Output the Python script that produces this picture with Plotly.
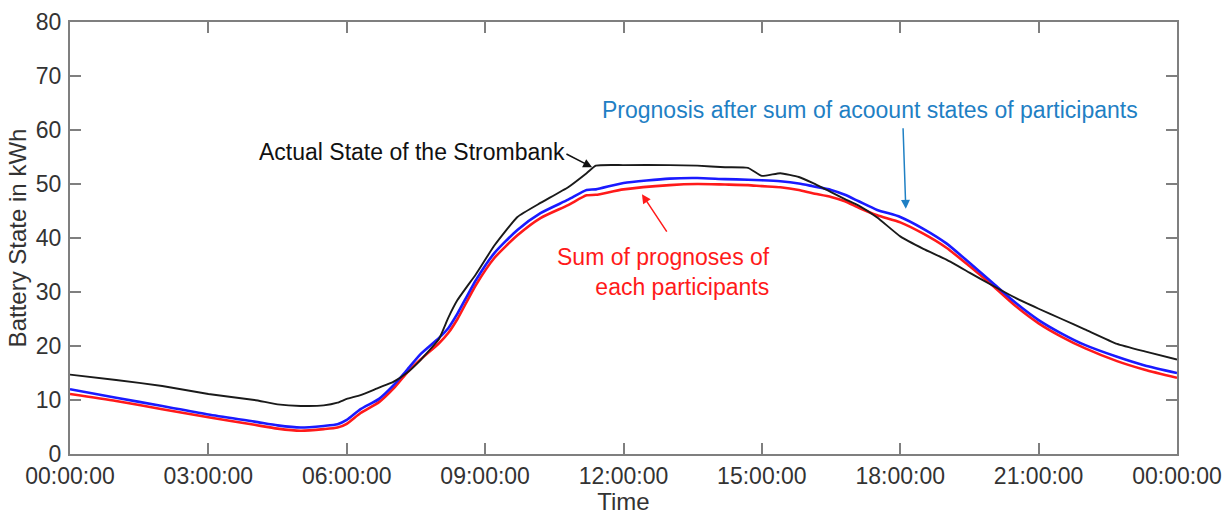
import plotly.graph_objects as go

hours = [0, 1, 2, 3, 4, 4.5, 5, 5.5, 5.8, 6, 6.3, 6.7, 7, 7.3, 7.6, 8, 8.2, 8.4, 8.8, 9.2,
         9.7, 10.2, 10.8, 11.2, 11.4, 12, 13, 13.6, 14.2, 14.7, 15, 15.4, 15.8, 16.1, 16.5,
         16.8, 17.1, 17.5, 18, 18.5, 19, 19.5, 20, 20.5, 21, 21.5, 22, 22.7, 23.3, 24]

actual = [14.7, 13.7, 12.6, 11.1, 10.0, 9.2, 8.9, 9.0, 9.5, 10.2, 10.9, 12.3, 13.3, 15.0, 17.4,
          21.3, 25.2, 28.5, 33.3, 38.6, 43.9, 46.5, 49.4, 52.0, 53.4, 53.5, 53.5, 53.4, 53.1,
          53.0, 51.5, 52.0, 51.3, 50.2, 48.5, 47.2, 46.0, 43.8, 40.3, 38.0, 36.0, 33.6, 31.2,
          28.9, 26.9, 25.0, 23.1, 20.4, 19.0, 17.5]

prognosis_account = [12.0, 10.4, 8.9, 7.3, 6.0, 5.3, 4.9, 5.2, 5.5, 6.3, 8.3, 10.2, 12.6, 15.5,
                     18.5, 21.5, 23.3, 26.0, 32.2, 37.2, 41.5, 44.6, 47.1, 48.9, 49.0, 50.2,
                     51.0, 51.1, 50.9, 50.8, 50.7, 50.5, 50.1, 49.6, 48.9, 48.0, 46.8, 45.2,
                     43.9, 41.7, 39.0, 35.4, 31.7, 28.0, 24.8, 22.3, 20.2, 18.0, 16.4, 15.0]

sum_prognoses = [11.1, 9.8, 8.3, 6.8, 5.4, 4.7, 4.3, 4.6, 4.9, 5.6, 7.6, 9.6, 12.0, 15.0, 17.5,
                 20.5, 22.4, 25.0, 31.3, 36.3, 40.5, 43.7, 46.1, 47.9, 48.0, 49.0, 49.8, 50.0,
                 49.9, 49.8, 49.6, 49.4, 48.9, 48.3, 47.6, 46.8, 45.6, 44.2, 42.9, 40.8, 38.2,
                 34.8, 31.2, 27.4, 24.2, 21.7, 19.6, 17.2, 15.6, 14.1]

tick_hours = [0, 3, 6, 9, 12, 15, 18, 21, 24]
tick_labels = ["00:00:00", "03:00:00", "06:00:00", "09:00:00", "12:00:00",
               "15:00:00", "18:00:00", "21:00:00", "00:00:00"]
y_ticks = [0, 10, 20, 30, 40, 50, 60, 70, 80]

FONT = "Liberation Sans, Arial, sans-serif"
BLUE_TXT = "#1f80c4"
TXT = "#333333"

fig = go.Figure()
fig.add_trace(go.Scatter(x=hours, y=sum_prognoses, mode="lines",
                         line=dict(color="#ff1a1a", width=2.6, shape="spline", smoothing=0.6),
                         name="Sum of prognoses"))
fig.add_trace(go.Scatter(x=hours, y=prognosis_account, mode="lines",
                         line=dict(color="#1a1aff", width=2.6, shape="spline", smoothing=0.6),
                         name="Prognosis account"))
fig.add_trace(go.Scatter(x=hours, y=actual, mode="lines",
                         line=dict(color="#1a1a1a", width=1.9, shape="spline", smoothing=0.4),
                         name="Actual"))

axis_common = dict(showline=True, linecolor="#7f7f7f", linewidth=2, mirror="allticks",
                   ticks="inside", ticklen=11, tickwidth=2, tickcolor="#7f7f7f",
                   showgrid=False, zeroline=False, automargin=False,
                   tickfont=dict(family=FONT, size=23, color=TXT))

fig.update_xaxes(range=[0, 24], tickmode="array", tickvals=tick_hours, ticktext=tick_labels,
                 ticklabelstandoff=0,
                 title=dict(text="Time", font=dict(family=FONT, size=24, color=TXT),
                            standoff=0), **axis_common)
fig.update_yaxes(range=[0, 80], tickmode="array", tickvals=y_ticks, ticklabelstandoff=2,
                 title=dict(text="Battery State in kWh",
                            font=dict(family=FONT, size=24, color=TXT), standoff=2),
                 **axis_common)

annotations = [
    dict(x=7.41, y=55.9, text="Actual State of the Strombank", showarrow=False,
         font=dict(family=FONT, size=23, color="#111111"), xanchor="center", yanchor="middle"),
    dict(x=11.32, y=53.1, ax=10.73, ay=55.7, xref="x", yref="y", axref="x", ayref="y",
         text="", showarrow=True, arrowhead=2, arrowsize=1.2, arrowwidth=1.5, arrowcolor="#111111"),
    dict(x=23.2, y=63.7, text="Prognosis after sum of acoount states of participants",
         showarrow=False, font=dict(family=FONT, size=23, color=BLUE_TXT),
         xanchor="right", yanchor="middle"),
    dict(x=18.12, y=45.4, ax=18.06, ay=60.6, xref="x", yref="y", axref="x", ayref="y",
         text="", showarrow=True, arrowhead=2, arrowsize=1.2, arrowwidth=1.5, arrowcolor=BLUE_TXT),
    dict(x=15.22, y=33.7, text="Sum of prognoses of<br>each participants", showarrow=False,
         align="right", font=dict(family=FONT, size=23, color="#ff1a1a"),
         xanchor="right", yanchor="middle"),
    dict(x=12.4, y=48.1, ax=12.96, ay=40.9, xref="x", yref="y", axref="x", ayref="y",
         text="", showarrow=True, arrowhead=2, arrowsize=1.2, arrowwidth=1.5, arrowcolor="#ff1a1a"),
]

fig.update_layout(width=1230, height=515, margin=dict(l=70, r=53, t=22, b=61),
                  paper_bgcolor="white", plot_bgcolor="white", showlegend=False,
                  annotations=annotations, font=dict(family=FONT))

fig.write_html("out.html", config={"displayModeBar": False},
               post_script="document.body.style.margin='0';document.body.style.overflow='hidden';")
